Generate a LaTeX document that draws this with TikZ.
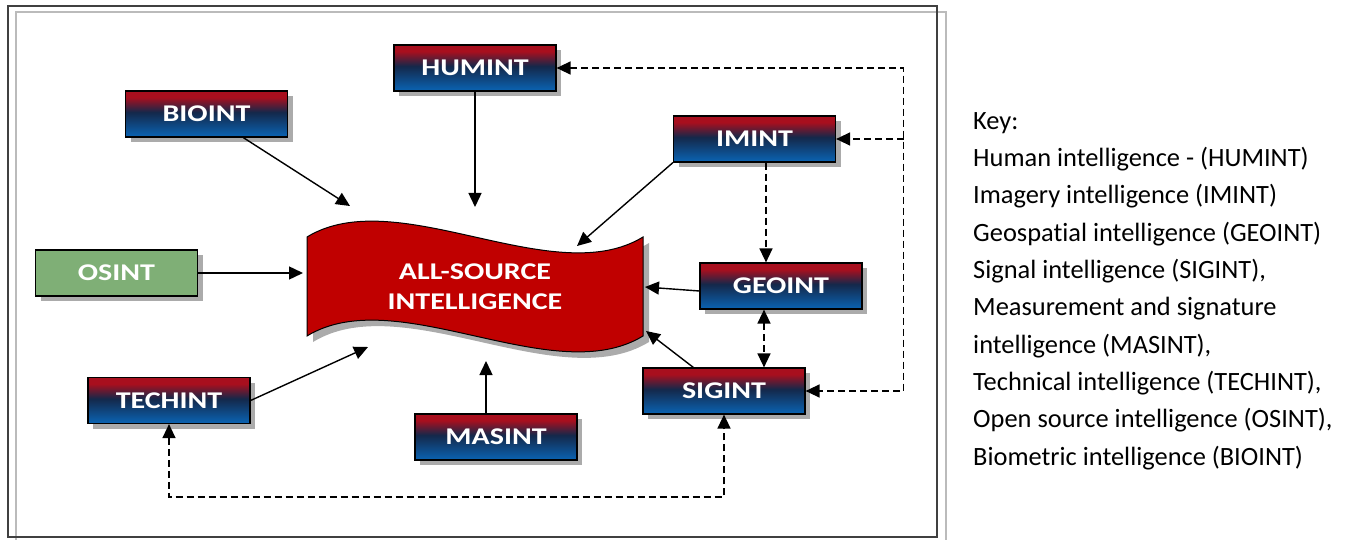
\documentclass[tikz,border=0pt]{standalone}
\usepackage{fontspec}
\setmainfont{Carlito}[Ligatures=NoCommon, RawFeature={-liga;-clig;-calt;-dlig}]
\newfontfamily\boxfont{Carlito}[FakeStretch=1.25]
\usetikzlibrary{positioning,arrows.meta,shadows,backgrounds}

\definecolor{intred}{HTML}{A80F1E}
\definecolor{intnavy}{HTML}{14284A}
\definecolor{intblue}{HTML}{0A64B4}
\definecolor{osgreen}{HTML}{7FAF76}
\definecolor{hubred}{HTML}{C00000}
\definecolor{framedark}{HTML}{404040}
\definecolor{framegray}{HTML}{BBBBBB}
\pgfdeclareverticalshading{intshade}{100bp}{color(0bp)=(intblue); color(25bp)=(intblue); color(52bp)=(intnavy); color(68bp)=(intred); color(100bp)=(intred)}

\begin{document}
\begin{tikzpicture}[
    node distance=150pt,
    srcbox/.style={rectangle, draw=black, line width=1.2pt, minimum width=162pt, minimum height=46pt, text=white, font=\boxfont\bfseries\fontsize{24}{28}\selectfont, drop shadow={shadow xshift=5pt, shadow yshift=-5pt, fill=black!55, opacity=.6}},
    intbox/.style={srcbox, shading=intshade},
    openbox/.style={srcbox, fill=osgreen},
    hubtext/.style={align=center, text=white, font=\boxfont\bfseries\fontsize{24}{30}\selectfont},
    wave/.style={draw=black, line width=1pt, fill=hubred, drop shadow={shadow xshift=6pt, shadow yshift=-6pt, fill=black!55, opacity=.6}},
    keytext/.style={align=left, inner sep=0pt, font=\fontsize{26.4}{37.3}\selectfont},
    arrow/.style={line width=1.4pt, ->, >={Triangle[length=14pt,width=13pt]}},
    dasharrow/.style={arrow, dash pattern=on 7pt off 4pt}
]
    \useasboundingbox (0,0) rectangle (1351pt,-540pt);

    % Frame
    \draw [framegray, line width=2pt] (16pt,-12pt) rectangle (946pt,-545pt);
    \draw [framedark, line width=2pt] (8pt,-6pt) rectangle (937pt,-537pt);

    % Central hub
    \node [hubtext] (hub) at (475pt,-287pt) {ALL-SOURCE\\INTELLIGENCE};
    \begin{scope}[on background layer, shift={(hub.center)}]
        \draw [wave] (-168pt,50pt) .. controls (-78pt,105pt) and (78pt,-5pt) .. (168pt,50pt)
            -- (168pt,-49pt) .. controls (78pt,-104pt) and (-78pt,6pt) .. (-168pt,-49pt) -- cycle;
    \end{scope}

    % Source boxes
    \node [intbox, above of=hub, yshift=69pt] (humint) {HUMINT};
    \node [intbox, left of=humint, xshift=-118.5pt, yshift=-46pt] (bioint) {BIOINT};
    \node [openbox, left of=hub, xshift=-208.5pt, yshift=14pt] (osint) {OSINT};
    \node [intbox, left of=hub, xshift=-156pt, yshift=-113.5pt] (techint) {TECHINT};
    \node [intbox, below of=hub, xshift=21pt] (masint) {MASINT};
    \node [intbox, right of=hub, xshift=156pt, yshift=1pt] (geoint) {GEOINT};
    \node [intbox, below of=geoint, xshift=-57pt, yshift=45pt] (sigint) {SIGINT};
    \node [intbox, above of=geoint, xshift=-26.5pt, yshift=-3pt] (imint) {IMINT};

    % Arrow tips round the hub
    \coordinate (tip-bio) at ([shift={(-125pt,81pt)}]hub.center);
    \coordinate (tip-hum) at ([shift={(0pt,80pt)}]hub.center);
    \coordinate (tip-os) at ([shift={(-172pt,14pt)}]hub.center);
    \coordinate (tip-tech) at ([shift={(-107pt,-60pt)}]hub.center);
    \coordinate (tip-mas) at ([shift={(11pt,-74pt)}]hub.center);
    \coordinate (tip-sig) at ([shift={(171pt,-44pt)}]hub.center);
    \coordinate (tip-geo) at ([shift={(170pt,0pt)}]hub.center);
    \coordinate (tip-im) at ([shift={(102pt,41pt)}]hub.center);

    % Arrows
    \draw [arrow] (bioint) -- (tip-bio);
    \draw [arrow] (humint) -- (tip-hum);
    \draw [arrow] (osint) -- (tip-os);
    \draw [arrow] (techint.east) -- (tip-tech);
    \draw [arrow] (tip-mas |- masint.north) -- (tip-mas);
    \draw [arrow] (sigint) -- (tip-sig);
    \draw [arrow] ([yshift=-5pt]geoint.west) -- (tip-geo);
    \draw [arrow] (imint.south west) -- (tip-im);

    % Dashed links
    \coordinate (bus) at ([xshift=347pt]humint.east);
    \coordinate (lowbus) at ([yshift=-73pt]techint.south);
    \draw [dasharrow] ([xshift=11.5pt]imint.south) -- ([xshift=11.5pt]imint.south |- geoint.north);
    \draw [dasharrow, <->] ([xshift=-17pt]geoint.south) -- ([xshift=-17pt]geoint.south |- sigint.north);
    \draw [dasharrow, <->] (humint.east) -- (bus) |- (sigint.east);
    \draw [dasharrow] (bus |- imint.east) -- (imint.east);
    \draw [dasharrow, <->] (techint.south) -- (lowbus) -| (sigint.south);

    % Key
    \node [keytext, anchor=west] (key) at (973pt,-291pt) {Key:\\Human intelligence - (HUMINT)\\Imagery intelligence (IMINT)\\Geospatial intelligence (GEOINT)\\Signal intelligence (SIGINT),\\Measurement and signature\\intelligence (MASINT),\\Technical intelligence (TECHINT),\\Open source intelligence (OSINT),\\Biometric intelligence (BIOINT)};
\end{tikzpicture}
\end{document}
